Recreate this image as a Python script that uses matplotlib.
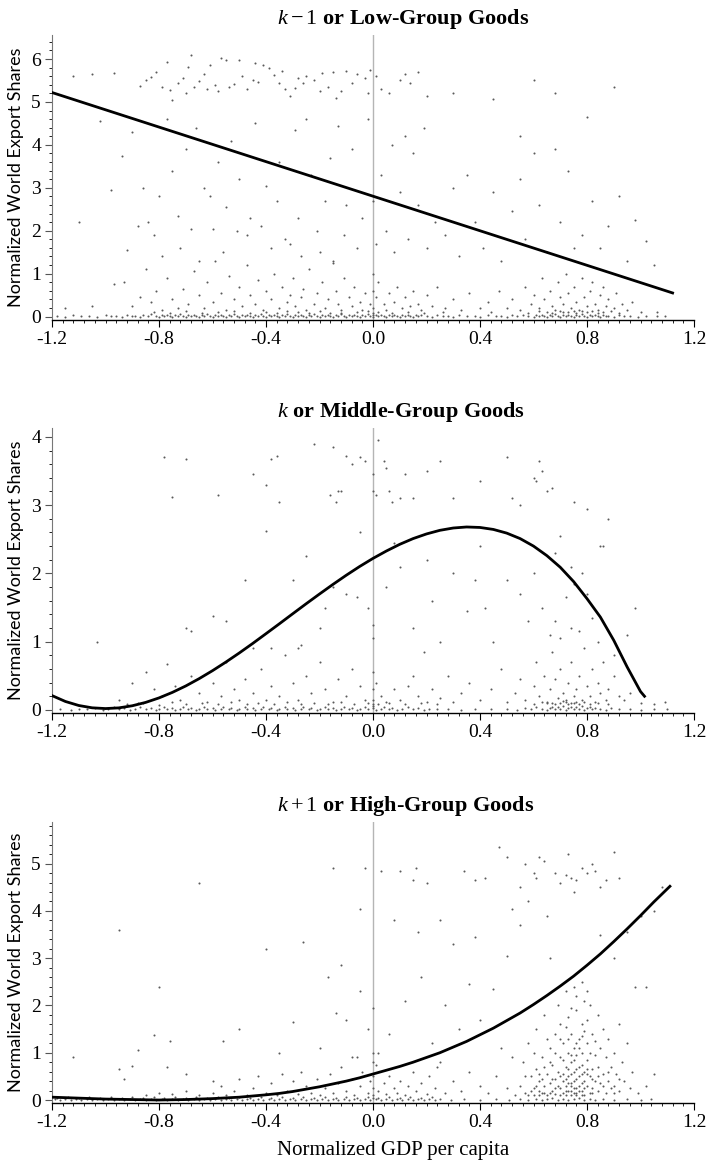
import numpy as np
import matplotlib.pyplot as plt
from matplotlib.ticker import MultipleLocator

plt.rcParams['font.family'] = 'Liberation Serif'
plt.rcParams['axes.unicode_minus'] = False
plt.rcParams['mathtext.fontset'] = 'custom'
plt.rcParams['mathtext.rm'] = 'Liberation Serif'
plt.rcParams['mathtext.it'] = 'Liberation Serif:italic'

xticks = [-1.2, -0.8, -0.4, 0.0, 0.4, 0.8, 1.2]
xtick_labels = ['-1.2', '-0.8', '-0.4', '0.0', '0.4', '0.8', '1.2']
titles = [r'$k-1$ or Low-Group Goods', r'$k$ or Middle-Group Goods', r'$k+1$ or High-Group Goods']
ylabel = 'Normalized World Export Shares'
xlabel = 'Normalized GDP per capita'

# ---- panel 1: low-group goods ----
low_top = [(-1.12,5.6),(-1.05,5.65),(-0.97,5.67),(-0.87,5.38),(-0.85,5.5),(-0.83,5.58),(-0.81,5.7),(-0.79,5.35),
           (-0.77,5.93),(-0.76,5.28),(-0.75,5.05),(-0.73,5.45),(-0.71,5.55),(-0.69,5.82),(-0.68,6.1),(-0.67,5.35),
           (-0.65,5.48),(-0.63,5.65),(-0.62,5.3),(-0.61,5.85),(-0.59,5.4),(-0.57,6.02),(-0.55,5.98),(-0.54,5.35),
           (-0.52,5.42),(-0.5,5.97),(-0.49,5.6),(-0.47,5.3),(-0.45,5.5),(-0.43,5.47),(-0.41,5.85),(-0.39,5.78),
           (-0.37,5.62),(-0.35,5.45),(-0.33,5.3),(-0.31,5.13),(-0.29,5.32),(-0.28,5.55),(-0.26,5.44),(-0.25,5.6),
           (-0.22,5.5),(-0.19,5.68),(-0.17,5.35),(-0.15,5.7),(-0.14,5.1),(-0.12,5.25),(-0.1,5.72),(-0.08,5.45),
           (-0.06,5.65),(-0.03,5.55),(-0.01,5.75),(0.01,5.6),(0.03,5.3),(0.06,5.2),(0.1,5.5),(0.12,5.65),
           (0.14,5.45),(0.17,5.7),(0.2,5.15),(0.3,5.2),(0.45,5.08),(0.6,5.52),(0.68,5.2),(0.9,5.35),
           (-0.44,5.9),(-0.34,5.72),(-0.58,5.25),(-0.7,5.2),(-0.2,5.25),(-0.02,5.2)]
low_mid = [(-1.1,2.2),(-1.02,4.55),(-0.98,2.95),(-0.94,3.75),(-0.92,1.55),(-0.9,4.3),(-0.88,2.1),(-0.86,3.0),
           (-0.84,2.2),(-0.82,1.9),(-0.8,2.8),(-0.79,1.4),(-0.77,4.6),(-0.75,3.4),(-0.73,2.35),(-0.72,1.6),
           (-0.7,3.9),(-0.68,2.05),(-0.66,4.4),(-0.65,1.3),(-0.63,3.0),(-0.61,2.8),(-0.6,2.05),(-0.58,3.6),
           (-0.56,1.5),(-0.55,2.55),(-0.53,4.1),(-0.51,2.0),(-0.5,3.2),(-0.47,1.9),(-0.46,2.3),(-0.44,4.5),
           (-0.42,2.1),(-0.4,3.05),(-0.38,1.6),(-0.36,2.7),(-0.35,3.6),(-0.33,1.8),(-0.31,1.7),(-0.29,4.35),
           (-0.28,2.3),(-0.27,1.4),(-0.25,4.6),(-0.23,3.3),(-0.21,2.0),(-0.2,1.5),(-0.18,2.7),(-0.16,3.7),
           (-0.15,1.3),(-0.13,4.45),(-0.11,1.9),(-0.1,2.6),(-0.08,3.9),(-0.06,1.6),(-0.04,2.3),(-0.02,4.6),
           (0.0,2.7),(0.01,1.7),(0.03,3.3),(0.05,2.0),(0.07,4.0),(0.08,1.5),(0.1,2.9),(0.12,4.2),(0.13,1.8),
           (0.15,3.8),(0.17,2.6),(0.19,4.4),(0.2,1.6),(0.23,2.2),(0.27,1.9),(0.3,3.0),(0.32,1.4),(0.35,3.3),
           (0.38,2.2),(0.41,1.6),(0.45,2.9),(0.48,1.3),(0.52,2.45),(0.55,3.2),(0.57,1.8),(0.6,3.8),(0.62,2.6),
           (0.65,1.5),(0.68,3.9),(0.7,2.2),(0.73,3.4),(0.75,1.6),(0.78,1.9),(0.82,2.7),(0.85,1.6),(0.88,2.1),
           (0.92,2.8),(0.95,1.3),(0.98,2.25),(1.02,1.75),(1.05,1.2),(0.8,4.65),(0.55,4.2)]
low_bottom = [(-1.15,0.2),(-1.05,0.25),(-0.97,0.75),(-0.93,0.8),(-0.9,0.25),(-0.87,0.45),(-0.85,1.1),(-0.83,0.35),
              (-0.81,0.6),(-0.79,0.15),(-0.77,0.9),(-0.75,0.4),(-0.73,0.2),(-0.71,0.65),(-0.69,0.3),(-0.67,1.05),
              (-0.65,0.5),(-0.63,0.2),(-0.62,0.8),(-0.6,0.35),(-0.59,1.3),(-0.57,0.55),(-0.55,0.15),(-0.54,0.95),
              (-0.52,0.4),(-0.5,0.7),(-0.49,0.25),(-0.47,1.2),(-0.46,0.5),(-0.44,0.3),(-0.43,0.85),(-0.41,0.15),
              (-0.4,0.6),(-0.38,0.4),(-0.37,1.0),(-0.35,0.2),(-0.34,0.7),(-0.32,0.35),(-0.31,0.5),(-0.3,0.9),
              (-0.29,0.25),(-0.27,0.45),(-0.26,0.65),(-0.25,0.15),(-0.24,1.1),(-0.22,0.3),(-0.21,0.55),(-0.19,0.8),
              (-0.18,0.2),(-0.17,0.4),(-0.15,1.25),(-0.14,0.6),(-0.13,0.3),(-0.12,0.15),(-0.11,0.9),(-0.09,0.45),
              (-0.08,0.25),(-0.07,0.7),(-0.05,0.35),(-0.04,0.15),(-0.03,0.55),(-0.01,0.3),(0.0,1.0),(0.0,0.6),
              (0.0,0.2),(0.01,0.45),(0.02,0.8),(0.04,0.3),(0.05,0.15),(0.06,0.55),(0.08,0.35),(0.09,0.7),
              (0.11,0.2),(0.12,0.45),(0.14,0.25),(0.15,0.6),(0.17,0.3),(0.18,0.15),(0.2,0.5),(0.22,0.25),
              (0.24,0.7),(0.27,0.2),(0.3,0.4),(0.33,0.15),(0.36,0.55),(0.4,0.2),(0.43,0.35),(0.47,0.6),(0.5,0.2),
              (0.52,0.4),(0.55,0.15),(0.57,0.7),(0.59,0.3),(0.6,0.5),(0.62,0.2),(0.63,0.9),(0.64,0.4),(0.66,0.6),
              (0.67,0.25),(0.68,0.15),(0.69,0.8),(0.7,0.45),(0.71,0.3),(0.72,1.0),(0.73,0.55),(0.74,0.2),
              (0.75,0.7),(0.76,0.35),(0.77,0.15),(0.78,0.9),(0.79,0.45),(0.8,0.25),(0.81,0.6),(0.82,0.8),
              (0.83,0.3),(0.84,0.15),(0.85,0.5),(0.86,0.7),(0.87,0.25),(0.88,0.4),(0.9,0.2),(0.91,0.55),
              (0.93,0.3),(0.95,0.15),(0.97,0.35),(1.0,0.1),(1.06,0.1),(0.65,0.1),(0.7,0.12),(0.76,0.08),
              (0.8,0.1),(0.73,0.1),(0.84,0.08)]
low_near = [(-0.82,0.1),(-0.76,0.08),(-0.7,0.12),(-0.64,0.09),(-0.58,0.1),(-0.52,0.13),(-0.46,0.08),(-0.4,0.11),
            (-0.36,0.09),(-0.32,0.12),(-0.28,0.1),(-0.24,0.08),(-0.2,0.12),(-0.16,0.09),(-0.12,0.08),(-0.06,0.1),
            (-0.02,0.12),(0.0,0.08),(0.02,0.1),(0.07,0.09),(0.13,0.11),(0.19,0.08),(0.26,0.1),(0.44,0.1),
            (0.58,0.09),(0.62,0.12),(0.67,0.09),(0.71,0.1),(0.75,0.14),(0.78,0.12),(0.82,0.12),(0.86,0.1),
            (0.89,0.12),(0.92,0.09)]
low_base = [(-1.18,0.02),(-1.15,0.0),(-1.12,0.03),(-1.09,0.01),(-1.06,0.02),(-1.03,0.0),(-1.0,0.03),(-0.98,0.01),
            (-0.96,0.02),(-0.94,0.0),(-0.92,0.04),(-0.9,0.01),(-0.89,0.02),(-0.87,0.0),(-0.86,0.03),(-0.84,0.01),
            (-0.83,0.05),(-0.81,0.02),(-0.8,0.0),(-0.79,0.03),(-0.78,0.01),(-0.77,0.04),(-0.76,0.02),(-0.75,0.0),
            (-0.74,0.03),(-0.73,0.01),(-0.72,0.05),(-0.71,0.02),(-0.7,0.0),(-0.69,0.03),(-0.68,0.01),(-0.67,0.04),
            (-0.66,0.02),(-0.65,0.0),(-0.64,0.03),(-0.63,0.01),(-0.62,0.05),(-0.61,0.02),(-0.6,0.0),(-0.59,0.03),
            (-0.58,0.01),(-0.57,0.04),(-0.56,0.02),(-0.55,0.0),(-0.54,0.03),(-0.53,0.01),(-0.52,0.05),(-0.51,0.02),
            (-0.5,0.0),(-0.49,0.03),(-0.48,0.01),(-0.47,0.04),(-0.46,0.02),(-0.45,0.0),(-0.44,0.03),(-0.43,0.01),
            (-0.42,0.05),(-0.41,0.02),(-0.4,0.0),(-0.39,0.03),(-0.38,0.01),(-0.37,0.04),(-0.36,0.02),(-0.35,0.0),
            (-0.34,0.03),(-0.33,0.01),(-0.32,0.05),(-0.31,0.02),(-0.3,0.0),(-0.29,0.03),(-0.28,0.01),(-0.27,0.04),
            (-0.26,0.02),(-0.25,0.0),(-0.24,0.03),(-0.23,0.01),(-0.22,0.05),(-0.21,0.02),(-0.2,0.0),(-0.19,0.03),
            (-0.18,0.01),(-0.17,0.04),(-0.16,0.02),(-0.15,0.0),(-0.14,0.03),(-0.13,0.01),(-0.12,0.05),(-0.11,0.02),
            (-0.1,0.0),(-0.09,0.03),(-0.08,0.01),(-0.07,0.04),(-0.06,0.02),(-0.05,0.0),(-0.04,0.03),(-0.03,0.01),
            (-0.02,0.05),(-0.01,0.02),(0.0,0.0),(0.0,0.04),(0.01,0.03),(0.02,0.01),(0.03,0.04),(0.04,0.02),
            (0.05,0.0),(0.06,0.03),(0.07,0.01),(0.08,0.04),(0.09,0.02),(0.1,0.0),(0.11,0.03),(0.12,0.01),
            (0.13,0.04),(0.14,0.02),(0.15,0.0),(0.16,0.03),(0.17,0.01),(0.18,0.04),(0.2,0.02),(0.22,0.0),
            (0.24,0.03),(0.26,0.01),(0.28,0.02),(0.3,0.0),(0.32,0.03),(0.35,0.01),(0.38,0.02),(0.4,0.0),
            (0.43,0.03),(0.46,0.01),(0.48,0.02),(0.5,0.0),(0.52,0.03),(0.54,0.01),(0.56,0.04),(0.58,0.02),
            (0.6,0.0),(0.61,0.03),(0.62,0.01),(0.63,0.04),(0.64,0.02),(0.65,0.0),(0.66,0.03),(0.67,0.01),
            (0.68,0.05),(0.69,0.02),(0.7,0.0),(0.71,0.03),(0.72,0.01),(0.73,0.04),(0.74,0.02),(0.75,0.0),
            (0.76,0.03),(0.77,0.01),(0.78,0.05),(0.79,0.02),(0.8,0.0),(0.81,0.03),(0.82,0.01),(0.83,0.04),
            (0.84,0.02),(0.85,0.0),(0.86,0.03),(0.87,0.01),(0.88,0.02),(0.9,0.0),(0.92,0.03),(0.94,0.01),
            (0.96,0.02),(0.99,0.0),(1.02,0.02),(1.06,0.01),(1.09,0.02)]
low_fit_x = [-1.2, 1.12]
low_fit_y = [5.22, 0.55]

# ---- panel 2: middle-group goods ----
mid_top = [(-0.78,3.7),(-0.7,3.67),(-0.75,3.12),(-0.58,3.15),(-0.38,3.68),(-0.36,3.72),(-0.4,3.3),(-0.45,3.45),
           (-0.35,3.05),(-0.4,2.62),(-0.22,3.9),(-0.15,3.85),(-0.13,3.2),(-0.16,3.15),(-0.14,3.05),(-0.12,3.2),
           (-0.1,3.72),(-0.08,3.6),(-0.05,3.7),(-0.03,3.65),(0.0,3.2),(0.01,3.15),(0.0,3.45),(0.02,3.95),
           (0.04,3.65),(0.05,3.55),(0.06,3.2),(0.07,3.05),(0.1,3.1),(0.12,3.45),(0.15,3.1),(0.2,3.5),(0.25,3.65),
           (0.3,3.1),(0.4,3.35),(0.5,3.7),(0.52,3.1),(0.55,3.0),(0.6,3.4),(0.61,3.35),(0.62,3.65),(0.63,3.5),
           (0.65,3.2),(0.67,3.25),(0.75,3.05),(0.8,2.95),(0.88,2.8),(-0.25,2.25),(-0.05,2.6),(0.7,2.55),
           (0.78,2.0),(0.85,2.4)]
mid_mid = [(-1.03,1.0),(-0.7,1.2),(-0.68,1.15),(-0.6,1.38),(-0.55,1.3),(-0.48,1.9),(-0.45,0.9),(-0.38,0.9),
           (-0.3,1.9),(-0.28,0.9),(-0.27,0.95),(-0.2,1.2),(-0.18,1.5),(-0.15,1.8),(-0.1,1.7),(-0.06,1.65),
           (-0.02,1.5),(0.0,1.25),(0.0,1.05),(0.05,1.8),(0.08,2.45),(0.1,2.1),(0.15,1.2),(0.2,2.2),(0.22,1.6),
           (0.25,1.0),(0.3,2.0),(0.35,1.45),(0.38,1.9),(0.4,2.4),(0.42,1.5),(0.45,1.0),(0.5,1.9),(0.55,1.7),
           (0.58,1.3),(0.6,2.0),(0.63,1.5),(0.66,1.1),(0.68,1.3),(0.7,1.05),(0.72,1.65),(0.74,1.2),(0.75,1.85),
           (0.77,1.15),(0.8,1.7),(0.82,1.35),(0.84,1.0),(0.86,2.4),(0.9,0.8),(0.98,1.5),(0.95,1.1),(0.74,2.1),
           (0.68,2.3)]
mid_bottom = [(-0.95,0.15),(-0.9,0.4),(-0.88,0.1),(-0.85,0.55),(-0.82,0.3),(-0.79,0.2),(-0.77,0.68),(-0.74,0.35),
              (-0.72,0.15),(-0.68,0.5),(-0.65,0.25),(-0.62,0.12),(-0.6,0.4),(-0.57,0.2),(-0.55,0.7),(-0.52,0.3),
              (-0.5,0.15),(-0.48,0.45),(-0.45,0.25),(-0.42,0.6),(-0.4,0.15),(-0.38,0.35),(-0.35,0.2),(-0.33,0.8),
              (-0.3,0.4),(-0.28,0.15),(-0.25,0.5),(-0.23,0.25),(-0.2,0.7),(-0.18,0.3),(-0.15,0.12),(-0.13,0.45),
              (-0.1,0.2),(-0.08,0.6),(-0.05,0.35),(-0.03,0.15),(0.0,0.55),(0.0,0.3),(0.0,0.15),(0.01,0.4),
              (0.03,0.2),(0.05,0.12),(0.08,0.3),(0.1,0.15),(0.13,0.35),(0.15,0.5),(0.17,0.2),(0.19,0.85),
              (0.2,0.12),(0.22,0.3),(0.25,0.18),(0.28,0.5),(0.3,0.12),(0.33,0.25),(0.36,0.4),(0.4,0.15),
              (0.44,0.3),(0.48,0.6),(0.5,0.12),(0.53,0.25),(0.55,0.45),(0.57,0.15),(0.6,0.35),(0.61,0.7),
              (0.62,0.2),(0.64,0.5),(0.65,0.12),(0.66,0.3),(0.67,0.85),(0.68,0.45),(0.69,0.18),(0.7,0.6),
              (0.71,0.25),(0.72,0.12),(0.73,0.4),(0.74,0.7),(0.75,0.2),(0.76,0.3),(0.77,0.5),(0.78,0.15),
              (0.79,0.9),(0.8,0.35),(0.81,0.2),(0.82,0.6),(0.83,0.12),(0.84,0.4),(0.85,0.25),(0.86,0.7),
              (0.87,0.15),(0.88,0.3),(0.9,0.5),(0.92,0.2),(0.94,0.15),(0.96,0.25),(1.0,0.1),(1.05,0.08),
              (1.09,0.12),(0.7,0.1),(0.72,0.15),(0.74,0.1),(0.68,0.08),(0.76,0.12),(0.65,0.1)]
mid_near = [(-0.92,0.08),(-0.86,0.1),(-0.8,0.07),(-0.75,0.11),(-0.7,0.08),(-0.64,0.1),(-0.58,0.08),(-0.53,0.11),
            (-0.47,0.08),(-0.43,0.1),(-0.37,0.08),(-0.32,0.11),(-0.27,0.08),(-0.22,0.1),(-0.17,0.08),(-0.12,0.11),
            (-0.07,0.08),(-0.02,0.1),(0.0,0.09),(0.02,0.08),(0.06,0.1),(0.12,0.08),(0.18,0.1),(0.24,0.08),
            (0.6,0.08),(0.63,0.12),(0.67,0.1),(0.71,0.13),(0.73,0.08),(0.75,0.1),(0.77,0.08),(0.79,0.12),
            (0.81,0.09),(0.84,0.1),(0.88,0.08)]
mid_base = [(-1.17,0.02),(-1.13,0.0),(-1.1,0.02),(-1.07,0.01),(-1.04,0.03),(-1.01,0.0),(-0.99,0.02),(-0.97,0.04),
            (-0.95,0.01),(-0.93,0.03),(-0.91,0.0),(-0.89,0.02),(-0.87,0.04),(-0.85,0.01),(-0.83,0.03),(-0.81,0.0),
            (-0.8,0.02),(-0.78,0.04),(-0.77,0.01),(-0.75,0.03),(-0.74,0.0),(-0.72,0.02),(-0.71,0.04),(-0.69,0.01),
            (-0.68,0.03),(-0.66,0.0),(-0.65,0.02),(-0.63,0.04),(-0.62,0.01),(-0.6,0.03),(-0.59,0.0),(-0.57,0.02),
            (-0.56,0.04),(-0.54,0.01),(-0.53,0.03),(-0.51,0.0),(-0.5,0.02),(-0.48,0.04),(-0.47,0.01),(-0.45,0.03),
            (-0.44,0.0),(-0.42,0.02),(-0.41,0.04),(-0.39,0.01),(-0.38,0.03),(-0.36,0.0),(-0.35,0.02),(-0.33,0.04),
            (-0.32,0.01),(-0.3,0.03),(-0.29,0.0),(-0.27,0.02),(-0.26,0.04),(-0.24,0.01),(-0.23,0.03),(-0.21,0.0),
            (-0.2,0.02),(-0.18,0.04),(-0.17,0.01),(-0.15,0.03),(-0.14,0.0),(-0.12,0.02),(-0.11,0.04),(-0.09,0.01),
            (-0.08,0.03),(-0.06,0.0),(-0.05,0.02),(-0.03,0.04),(-0.02,0.01),(0.0,0.03),(0.0,0.06),(0.01,0.0),
            (0.03,0.02),(0.04,0.04),(0.06,0.01),(0.07,0.03),(0.09,0.0),(0.11,0.02),(0.13,0.04),(0.15,0.01),
            (0.17,0.03),(0.19,0.0),(0.21,0.02),(0.24,0.01),(0.28,0.02),(0.33,0.0),(0.38,0.02),(0.44,0.01),
            (0.5,0.02),(0.54,0.0),(0.57,0.03),(0.59,0.01),(0.61,0.04),(0.63,0.02),(0.65,0.0),(0.66,0.03),
            (0.67,0.05),(0.68,0.01),(0.69,0.04),(0.7,0.02),(0.71,0.06),(0.72,0.0),(0.73,0.03),(0.74,0.05),
            (0.75,0.01),(0.76,0.04),(0.77,0.02),(0.78,0.06),(0.79,0.0),(0.8,0.03),(0.81,0.05),(0.82,0.01),
            (0.83,0.03),(0.85,0.02),(0.87,0.0),(0.89,0.03),(0.92,0.01),(0.96,0.02),(1.0,0.0),(1.05,0.02),
            (1.1,0.01)]
mid_fit_x = [-1.2, -1.15, -1.1, -1.05, -1.0, -0.95, -0.9, -0.85, -0.8, -0.75, -0.7, -0.65, -0.6, -0.55, -0.5,
             -0.45, -0.4, -0.35, -0.3, -0.25, -0.2, -0.15, -0.1, -0.05, 0.0, 0.05, 0.1, 0.15, 0.2, 0.25, 0.3,
             0.35, 0.4, 0.45, 0.5, 0.55, 0.6, 0.65, 0.7, 0.75, 0.8, 0.85, 0.9, 0.95, 1.0, 1.015]
mid_fit_y = [0.21, 0.124, 0.065, 0.031, 0.02, 0.03, 0.061, 0.11, 0.176, 0.257, 0.351, 0.458, 0.575, 0.701,
             0.834, 0.973, 1.117, 1.262, 1.409, 1.555, 1.698, 1.838, 1.973, 2.101, 2.22, 2.328, 2.426, 2.51,
             2.578, 2.631, 2.665, 2.68, 2.673, 2.644, 2.59, 2.51, 2.4, 2.26, 2.09, 1.88, 1.63, 1.36, 1.02, 0.63,
             0.27, 0.2]

# ---- panel 3: high-group goods ----
high_sparse = [(-1.12,0.9),(-0.95,3.6),(-0.95,0.65),(-0.93,0.45),(-0.9,0.72),(-0.88,1.05),(-0.82,1.38),(-0.8,2.4),
               (-0.77,0.7),(-0.76,1.25),(-0.7,0.55),(-0.65,4.58),(-0.6,0.4),(-0.56,1.25),(-0.5,1.5),(-0.4,3.2),
               (-0.35,1.0),(-0.3,1.65),(-0.26,3.35),(-0.2,1.1),(-0.17,2.6),(-0.15,4.9),(-0.14,1.85),(-0.12,2.85),
               (-0.1,1.7),(-0.08,0.9),(-0.05,2.3),(-0.05,4.05),(-0.03,4.9),(-0.02,1.5),(0.0,1.95),(0.0,1.0),
               (0.0,0.8),(0.03,4.85),(0.06,1.4),(0.08,3.8),(0.1,4.85),(0.12,2.1),(0.15,4.65),(0.16,4.9),
               (0.17,3.55),(0.18,2.6),(0.2,4.6),(0.22,1.2),(0.25,3.8),(0.27,2.0),(0.3,3.3),(0.32,1.5),(0.34,4.85),
               (0.36,2.45),(0.38,3.45),(0.4,1.7),(0.42,4.7),(0.45,2.35),(0.47,5.35),(0.5,5.15),(0.5,3.05),
               (0.52,4.05),(0.55,3.7),(0.57,5.0),(0.58,4.2),(0.6,4.8),(0.61,4.7),(0.62,5.15),(0.64,5.05),
               (0.66,3.0),(0.68,4.8),(0.7,4.6),(0.72,4.75),(0.73,5.2),(0.74,4.7),(0.75,4.4),(0.76,4.65),
               (0.78,4.9),(0.8,4.8),(0.82,5.0),(0.83,4.85),(0.85,4.5),(0.87,4.65),(0.9,5.25),(0.92,4.7),
               (0.95,3.55),(0.98,2.4),(1.02,2.4),(1.05,4.0),(1.08,4.5),(1.0,3.9),(0.9,3.0),(0.85,3.5),
               (0.65,3.9),(0.55,4.5),(0.38,4.65)]
high_right = [(0.55,0.3),(0.56,0.8),(0.57,0.15),(0.58,1.2),(0.59,0.5),(0.6,0.1),(0.6,0.25),(0.61,0.65),(0.61,1.5),
              (0.62,0.2),(0.62,0.4),(0.63,0.9),(0.63,0.15),(0.64,0.3),(0.64,1.8),(0.65,0.55),(0.65,0.1),(0.66,1.1),
              (0.66,0.35),(0.67,0.2),(0.67,0.75),(0.68,1.4),(0.68,0.45),(0.68,0.12),(0.69,0.6),(0.69,2.0),
              (0.7,0.25),(0.7,0.9),(0.7,1.6),(0.71,0.4),(0.71,0.15),(0.71,1.2),(0.72,0.7),(0.72,0.3),(0.72,2.3),
              (0.73,0.5),(0.73,1.0),(0.73,0.2),(0.73,1.75),(0.74,0.35),(0.74,0.1),(0.74,0.8),(0.74,1.4),
              (0.75,0.6),(0.75,0.25),(0.75,2.4),(0.75,1.1),(0.76,0.45),(0.76,0.15),(0.76,0.95),(0.76,1.9),
              (0.77,0.3),(0.77,0.7),(0.77,1.3),(0.78,0.2),(0.78,0.55),(0.78,1.6),(0.78,1.0),(0.79,0.4),
              (0.79,0.1),(0.79,2.1),(0.8,0.85),(0.8,0.3),(0.8,1.7),(0.8,1.2),(0.81,0.5),(0.81,0.15),(0.81,2.0),
              (0.82,0.65),(0.82,1.4),(0.82,0.25),(0.83,0.95),(0.83,0.4),(0.84,1.8),(0.84,0.2),(0.84,0.7),
              (0.85,1.1),(0.85,0.35),(0.86,0.55),(0.86,1.5),(0.87,0.15),(0.87,0.9),(0.88,0.4),(0.88,1.3),
              (0.89,0.25),(0.89,0.7),(0.9,1.0),(0.9,0.3),(0.91,0.55),(0.92,1.6),(0.92,0.2),(0.93,0.8),
              (0.94,0.4),(0.95,1.2),(0.96,0.25),(0.97,0.6),(0.99,0.15),(1.02,0.3),(1.05,0.55),(0.6,1.0),
              (0.62,0.55),(0.65,1.3),(0.67,0.45),(0.69,0.3),(0.7,0.5),(0.72,0.45),(0.73,0.65),(0.74,0.55),
              (0.75,0.4),(0.76,0.65),(0.77,0.5),(0.78,0.35),(0.79,0.6),(0.8,0.55),(0.82,0.45),(0.71,0.85),
              (0.73,1.3),(0.75,0.85),(0.77,1.1),(0.79,1.45),(0.81,1.0),(0.83,1.25),(0.76,2.2),(0.8,2.3),
              (0.78,2.5),(0.74,1.95),(0.72,1.55),(0.7,1.3),(0.68,1.0),(0.66,0.8),(0.64,0.7),(0.63,0.45),
              (0.61,0.3),(0.59,0.2),(0.57,0.5),(0.58,0.1),(0.86,0.3),(0.84,0.5),(0.88,0.6),(0.9,0.15),
              (0.92,0.45),(0.66,0.15),(0.7,0.1),(0.74,0.2),(0.78,0.1),(0.82,0.15),(0.76,0.1),(0.72,0.1),
              (0.68,0.25),(0.62,0.1),(0.64,0.15),(0.74,0.3),(0.76,0.25),(0.72,0.2),(0.75,0.15),(0.73,0.35),
              (0.77,0.2),(0.71,0.55),(0.79,0.25),(0.8,0.65),(0.78,0.75),(0.74,0.95),(0.76,1.2),(0.78,1.35)]
high_low = [(-0.6,0.15),(-0.57,0.3),(-0.55,0.1),(-0.52,0.2),(-0.5,0.45),(-0.47,0.1),(-0.45,0.25),(-0.43,0.5),
            (-0.4,0.15),(-0.38,0.35),(-0.36,0.1),(-0.34,0.55),(-0.32,0.2),(-0.3,0.4),(-0.28,0.12),(-0.27,0.6),
            (-0.25,0.3),(-0.23,0.15),(-0.21,0.45),(-0.2,0.1),(-0.18,0.25),(-0.16,0.55),(-0.15,0.15),(-0.13,0.35),
            (-0.12,0.7),(-0.1,0.2),(-0.08,0.45),(-0.07,0.1),(-0.05,0.3),(-0.04,0.6),(-0.02,0.15),(-0.01,0.4),
            (0.0,0.25),(0.0,0.5),(0.0,0.1),(0.01,0.75),(0.02,0.2),(0.04,0.35),(0.05,0.12),(0.06,0.5),(0.08,0.25),
            (0.09,0.15),(0.1,0.4),(0.12,0.1),(0.13,0.3),(0.15,0.6),(0.16,0.2),(0.18,0.35),(0.2,0.12),(0.21,0.5),
            (0.23,0.25),(0.25,0.8),(0.27,0.15),(0.3,0.4),(0.33,0.2),(0.36,0.6),(0.4,0.3),(0.43,0.15),(0.46,0.5),
            (0.5,0.25),(0.52,0.9),(0.48,1.1),(0.53,0.1),(-0.65,0.1),(-0.7,0.2),(-0.75,0.12),(-0.8,0.15),
            (-0.85,0.1),(-0.06,0.9),(0.02,1.0),(0.24,0.7)]
high_base = [(-1.19,0.02),(-1.17,0.0),(-1.15,0.03),(-1.13,0.01),(-1.11,0.02),(-1.09,0.0),(-1.07,0.03),(-1.05,0.01),
             (-1.03,0.02),(-1.01,0.0),(-0.99,0.03),(-0.97,0.01),(-0.95,0.02),(-0.93,0.0),(-0.91,0.03),(-0.89,0.01),
             (-0.87,0.02),(-0.85,0.0),(-0.83,0.03),(-0.81,0.01),(-0.79,0.02),(-0.77,0.0),(-0.75,0.03),(-0.73,0.01),
             (-0.71,0.02),(-0.69,0.0),(-0.67,0.03),(-0.65,0.01),(-0.63,0.02),(-0.61,0.0),(-0.59,0.03),(-0.57,0.01),
             (-0.55,0.02),(-0.53,0.0),(-0.51,0.03),(-0.49,0.01),(-0.47,0.02),(-0.45,0.0),(-0.43,0.03),(-0.41,0.01),
             (-0.39,0.02),(-0.37,0.0),(-0.35,0.03),(-0.33,0.01),(-0.31,0.02),(-0.29,0.0),(-0.27,0.03),(-0.25,0.01),
             (-0.23,0.02),(-0.21,0.0),(-0.19,0.03),(-0.17,0.01),(-0.15,0.02),(-0.13,0.0),(-0.11,0.03),(-0.09,0.01),
             (-0.07,0.02),(-0.05,0.0),(-0.03,0.03),(-0.01,0.01),(0.0,0.04),(0.01,0.02),(0.03,0.0),(0.05,0.03),
             (0.07,0.01),(0.09,0.02),(0.11,0.0),(0.13,0.03),(0.15,0.01),(0.17,0.02),(0.19,0.0),(0.21,0.03),
             (0.23,0.01),(0.25,0.02),(0.29,0.0),(0.34,0.02),(0.4,0.01),(0.46,0.02),(0.51,0.0),(0.55,0.02),
             (0.58,0.01),(0.61,0.03),(0.63,0.0),(0.65,0.02),(0.67,0.04),(0.69,0.01),(0.71,0.03),(0.73,0.0),
             (0.75,0.02),(0.77,0.04),(0.79,0.01),(0.81,0.03),(0.83,0.0),(0.86,0.02),(0.9,0.01),(0.95,0.02),
             (1.0,0.0),(1.04,0.02)]
high_base2 = [(-1.18,0.05),(-1.14,0.06),(-1.1,0.05),(-1.06,0.06),(-1.02,0.05),(-0.98,0.06),(-0.94,0.05),
              (-0.9,0.06),(-0.86,0.05),(-0.82,0.06),(-0.78,0.05),(-0.74,0.06),(-0.7,0.05),(-0.66,0.06),
              (-0.62,0.05),(-0.58,0.06),(-0.54,0.05),(-0.5,0.07),(-0.46,0.05),(-0.42,0.07),(-0.38,0.05),
              (-0.34,0.07),(-0.3,0.05),(-0.26,0.07),(-0.22,0.05),(-0.18,0.07),(-0.14,0.05),(-0.1,0.07),
              (-0.06,0.05),(-0.02,0.07),(0.02,0.05),(0.06,0.07),(0.1,0.05),(0.14,0.07),(0.18,0.05),(0.22,0.06)]
high_fit_x = [-1.2, -1.1, -1.0, -0.9, -0.8, -0.7, -0.6, -0.5, -0.4, -0.35, -0.3, -0.25, -0.2, -0.15, -0.1,
              -0.05, 0.0, 0.05, 0.1, 0.15, 0.2, 0.25, 0.3, 0.35, 0.4, 0.45, 0.5, 0.55, 0.6, 0.65, 0.7, 0.75,
              0.8, 0.85, 0.9, 0.95, 1.0, 1.05, 1.11]
high_fit_y = [0.06, 0.04, 0.02, 0.01, 0.0, 0.01, 0.03, 0.06, 0.11, 0.14, 0.18, 0.23, 0.28, 0.34, 0.4, 0.47,
              0.55, 0.63, 0.71, 0.8, 0.9, 1.0, 1.12, 1.24, 1.38, 1.52, 1.68, 1.84, 2.02, 2.21, 2.41, 2.62,
              2.85, 3.09, 3.35, 3.62, 3.9, 4.19, 4.52]

W, H = 712, 1171
fig = plt.figure(figsize=(W / 100, H / 100), dpi=100)

panels = [
    (titles[0], [low_top, low_mid, low_bottom, low_near, low_base], low_fit_x, low_fit_y, 35, 320, (-0.08, 6.56)),
    (titles[1], [mid_top, mid_mid, mid_bottom, mid_near, mid_base], mid_fit_x, mid_fit_y, 428, 713, (-0.045, 4.13)),
    (titles[2], [high_sparse, high_right, high_low, high_base, high_base2], high_fit_x, high_fit_y, 822, 1103,
     (-0.063, 5.88)),
]

for title, groups, fx, fy, top, bot, ylim in panels:
    ax = fig.add_axes([52 / W, 1 - bot / H, 642 / W, (bot - top) / H])
    pts = np.array([p for g in groups for p in g])
    ax.scatter(pts[:, 0], pts[:, 1], s=2.2, marker='o', color='#5a5a5a', linewidths=0, zorder=2)
    ax.axvline(0, color='#b5b5b5', lw=1.0, zorder=1)
    ax.plot(fx, fy, color='black', lw=2.0, zorder=3, solid_joinstyle='round')

    ax.set_xlim(-1.2, 1.2)
    ax.set_ylim(*ylim)
    ax.set_xticks(xticks)
    ax.set_xticklabels(xtick_labels)
    ax.xaxis.set_minor_locator(MultipleLocator(0.04))
    ax.yaxis.set_major_locator(MultipleLocator(1))
    ax.yaxis.set_minor_locator(MultipleLocator(0.2))
    ax.tick_params(axis='both', which='major', labelsize=14, length=5, width=0.8, pad=3)
    ax.tick_params(axis='both', which='minor', length=2.5, width=0.6)
    ax.tick_params(axis='y', colors='#555555', labelcolor='black')

    for s in ['top', 'right']:
        ax.spines[s].set_visible(False)
    ax.spines['left'].set_color('#777777')
    ax.spines['left'].set_linewidth(0.8)
    ax.spines['bottom'].set_linewidth(1.0)

    fig.text(277 / W, 1 - (top - 16) / H, title, ha='left', va='center',
             fontsize=16, fontweight='bold')
    fig.text(16 / W, 1 - ((top + bot) / 2) / H, ylabel, rotation=90, ha='center', va='center',
             fontsize=13, family='Lato')

fig.text(393 / W, 1 - 1150 / H, xlabel, ha='center', va='center', fontsize=15)

fig.savefig('out.png', dpi=100)
